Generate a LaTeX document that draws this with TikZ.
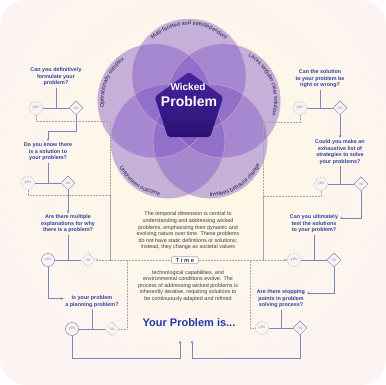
\documentclass[tikz,border=0pt]{standalone}
\usepackage{fontspec}
\setmainfont{Liberation Sans}
\usetikzlibrary{arrows.meta,positioning,calc,shapes.geometric,decorations.text}
\definecolor{cBg}{RGB}{252,244,242}
\definecolor{cGlow}{RGB}{255,248,226}
\definecolor{cVenn}{RGB}{118,78,196}
\definecolor{cRim}{RGB}{214,162,205}
\definecolor{cCoreA}{RGB}{72,36,158}
\definecolor{cCoreB}{RGB}{44,18,118}
\definecolor{cVtxt}{RGB}{40,30,65}
\definecolor{cQues}{RGB}{46,66,160}
\definecolor{cLine}{RGB}{122,136,190}
\definecolor{cSoft}{RGB}{145,155,198}
\definecolor{cDot}{RGB}{165,165,175}
\definecolor{cBody}{RGB}{60,60,70}
\definecolor{cTitle}{RGB}{35,55,165}

\begin{document}
\begin{tikzpicture}[x=1pt, y=1pt, font=\fontsize{5.3}{6.6}\selectfont,
  ques/.style={font=\bfseries\fontsize{5.4}{6.5}\selectfont, text=cQues, align=center, inner sep=1.5pt},
  body/.style={font=\fontsize{5.4}{6.6}\selectfont, text=cBody, align=center, inner sep=0pt},
  yesnode/.style={circle, minimum size=13pt, inner sep=0pt, fill=cBg, line width=0.5pt,
    font=\fontsize{4.4}{4.4}\selectfont, text=cSoft},
  yessolid/.style={yesnode, draw=cLine},
  yesdot/.style={yesnode, draw=cSoft, densely dotted},
  nonode/.style={diamond, minimum size=14pt, inner sep=0pt, fill=cBg, line width=0.5pt,
    font=\fontsize{4.4}{4.4}\selectfont, text=cSoft},
  nosolid/.style={nonode, draw=cLine},
  nodot/.style={nonode, draw=cSoft, densely dotted},
  flow/.style={draw=cLine, line width=0.7pt},
  flowarr/.style={flow, -{Stealth[length=3pt,width=2.6pt]}},
  dotline/.style={draw=cDot, densely dotted, line width=0.5pt},
  vlabel/.style={decorate, decoration={text along path, text align=center,
    text={|\color{cVtxt}\fontsize{5.5}{6}\selectfont|#1}}}]
\useasboundingbox (0,0) rectangle (386,385);
\fill[white] (0,0) rectangle (386,385);
\begin{scope}
  \clip[rounded corners=26pt] (0,0) rectangle (386,385);
  \fill[cBg] (0,0) rectangle (386,385);
  \shade[inner color=cGlow, outer color=cBg] (192,225) circle (230);
\end{scope}

% five overlapping circles
\coordinate (V) at (189,273);
\foreach \a/\n in {90/ct,162/cul,18/cur,234/cll,306/clr}
  \coordinate (\n) at ($(V)+(\a:36)$);
\foreach \n in {ct,cul,cur,cll,clr}
  \fill[cVenn, fill opacity=0.41] (\n) circle (57);
\foreach \n in {ct,cul,cur,cll,clr}
  \draw[cRim, line width=0.4pt] (\n) circle (57);

\path[vlabel={Multi-faceted and interdependent}] (ct) ++(165:51) arc[start angle=165, end angle=15, radius=51];
\path[vlabel={Lacks singular clear solution}] (cur) ++(80:51) arc[start angle=80, end angle=-36, radius=51];
\path[vlabel={Involves behavior change}] (clr) ++(-120:55) arc[start angle=-120, end angle=4, radius=55];
\path[vlabel={Unforeseen outcome}] (cll) ++(175:55) arc[start angle=175, end angle=295, radius=55];
\path[vlabel={Operationally complex}] (cul) ++(215:51) arc[start angle=215, end angle=99, radius=51];

\node[regular polygon, regular polygon sides=5, minimum size=72pt, inner sep=0pt,
  top color=cCoreA, bottom color=cCoreB, rounded corners=2pt] (core) at (189,277) {};
\node[font=\bfseries\fontsize{10}{10}\selectfont, text=white] (wk) at (188,298) {Wicked};
\node[font=\bfseries\fontsize{14}{14}\selectfont, text=white] (pb) at (189,283) {Problem};

% centre texts
\node[body] (p1) at (188,154) {The temporal dimension is central to\\understanding and addressing wicked\\problems, emphasizing their dynamic and\\evolving nature over time. These problems\\do not have static definitions or solutions;\\instead, they change as societal values};
\node[draw=cDot, fill=white, rounded corners=1.5pt, font=\bfseries\fontsize{5.8}{6}\selectfont,
  text=cBody, inner xsep=4.5pt, inner ysep=1.2pt] (tm) at (185,125) {T i m e};
\node[body] (p2) at (188,99) {technological capabilities, and\\environmental conditions evolve. The\\process of addressing wicked problems is\\inherently iterative, requiring solutions to\\be continuously adapted and refined};
\node[font=\bfseries\fontsize{11}{11}\selectfont, text=cTitle] (res) at (189,62) {Your Problem is...};
\coordinate (inL) at ($(res.south)+(-9,-10)$);
\coordinate (inR) at ($(res.south)+(3,-10)$);

% left questions
\node[ques] (q1) at (56,308) {Can you definitively\\formulate your\\problem?};
\node[yesdot] (y1) at (36,277) {yes};
\node[nosolid] (n1) at (76,277) {no};
\node[ques] (q2) at (48,233) {Do you know there\\is a solution to\\your problem?};
\node[yesdot] (y2) at (28,202) {yes};
\node[nosolid] (n2) at (68,202) {no};
\node[ques] (q3) at (68,161) {Are there multiple\\explanations for why\\there is a problem?};
\node[yessolid] (y3) at (48,125) {yes};
\node[nodot] (n3) at (88,125) {no};
\node[ques] (q5) at (92,83.5) {Is your problem\\a planning problem?};
\node[yessolid] (y5) at (72,56) {yes};
\node[nodot] (n5) at (112,56) {no};

% right questions
\node[ques] (r1) at (320,306) {Can the solution\\to your problem be\\right or wrong?};
\node[yesdot] (yr1) at (300,277) {yes};
\node[nosolid] (nr1) at (340,277) {no};
\node[ques] (r2) at (340,233) {Could you make an\\exhaustive list of\\strategies to solve\\your problems?};
\node[yesdot] (yr2) at (321,201) {yes};
\node[nosolid] (nr2) at (361,201) {no};
\node[ques] (r3) at (314,161) {Can you ultimately\\test the solutions\\to your problem?};
\node[yesdot] (yr3) at (294,125) {yes};
\node[nosolid] (nr3) at (334,125) {no};
\node[ques] (r4) at (281,86) {Are there stopping\\points in problem\\solving process?};
\node[yesdot] (yr4) at (262,57) {yes};
\node[nosolid] (nr4) at (300,57) {no};

\foreach \q/\y/\n in {q1/y1/n1,q2/y2/n2,q3/y3/n3,q5/y5/n5,r1/yr1/nr1,r2/yr2/nr2,r3/yr3/nr3,r4/yr4/nr4} {
  \draw[flow] (\y) -- (\n);
  \draw[flow] (\q.south) -- (\q.south |- \y.center);
}

% solid paths
\draw[flowarr] (n1.south) -- ++(0,-16) -| (q2.north);
\draw[flowarr] (n2.south) -- (n2.south |- q3.north);
\draw[flowarr] (y3.south) |- ([yshift=3pt]q5.west);
\draw[flowarr] (y5.south) |- ($(inL)+(0,-18)$) -- (inL);
\draw[flowarr] (nr1.south) -- (nr1.south |- r2.north);
\draw[flowarr] (nr2.south) |- ([yshift=6pt]r3.east);
\draw[flowarr] (nr3.south) |- ([yshift=6pt]r4.east);
\draw[flowarr] (nr4.south) |- ($(inR)+(0,-18)$) -- (inR);

% dotted frame round the centre
\coordinate (tL) at (110,125);
\coordinate (tL2) at (127,125);
\coordinate (tR) at (263,125);
\coordinate (tR2) at (250,125);
\draw[dotline] (y1.south) -- ++(0,-7) -| (tL);
\draw[dotline] (y2.south) -- ++(0,-6) -| (tL);
\draw[dotline] (n5.east) -| (tL2);
\draw[dotline] (yr1.south) -- ++(0,-8) -| (tR);
\draw[dotline] (yr2.south) -- ++(0,-6) -| (tR);
\draw[dotline] (yr4.west) -| (tR2);
\draw[dotline, -{Stealth[length=3pt,width=2.6pt]}] (tm.west) -- (n3.east);
\draw[dotline, -{Stealth[length=3pt,width=2.6pt]}] (tm.east) -- (yr3.west);
\end{tikzpicture}
\end{document}
